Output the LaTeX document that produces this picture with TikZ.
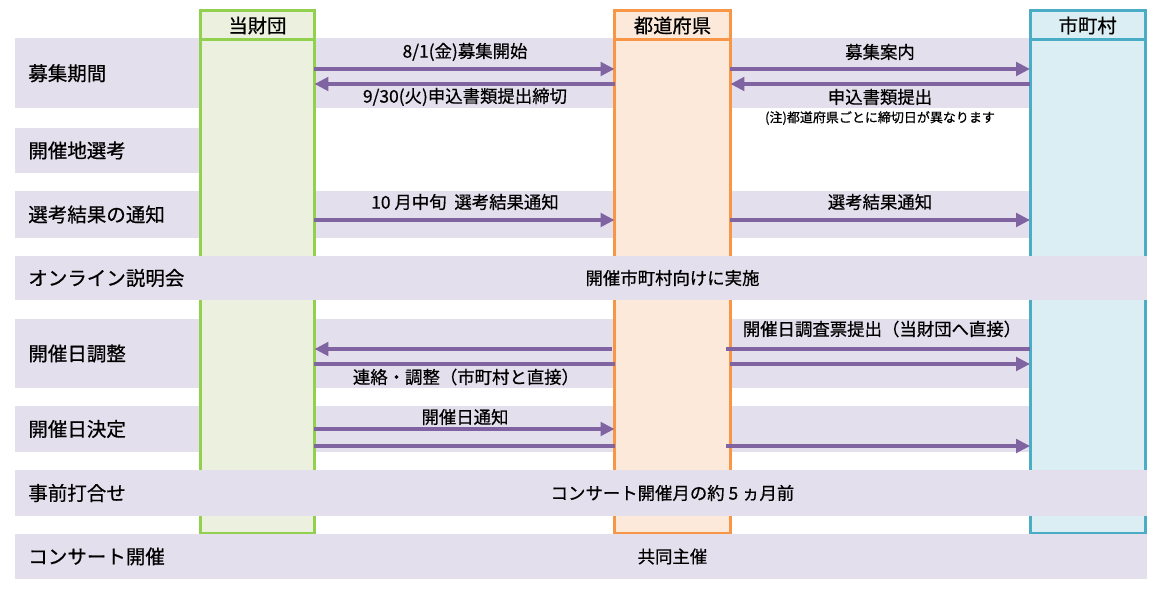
\documentclass[tikz,border=0pt]{standalone}
\usepackage{fontspec}
\setmainfont{Noto Sans CJK JP}[FakeBold=0.6]
\usepackage{tikz}
\usetikzlibrary{arrows.meta}
\definecolor{bandgray}{HTML}{E4DFEC}
\definecolor{flowpurple}{HTML}{8064A2}
\definecolor{zaidanline}{HTML}{92D050}
\definecolor{zaidanfill}{HTML}{EBF1DE}
\definecolor{prefline}{HTML}{F79646}
\definecolor{preffill}{HTML}{FDE9D9}
\definecolor{cityline}{HTML}{4BACC6}
\definecolor{cityfill}{HTML}{DAEEF3}
\tikzstyle{band} = [rectangle, fill=bandgray, inner sep=0pt, outer sep=0pt, anchor=north west]
\tikzstyle{rowlabel} = [anchor=west, inner sep=0pt, font=\fontsize{11.1}{13}\selectfont]
\tikzstyle{colbody} = [rectangle, line width=1.7pt, inner sep=0pt, outer sep=0pt,
    anchor=north west, minimum width=2.3cm, minimum height=9.88cm]
\tikzstyle{colhead} = [rectangle, line width=1.7pt, inner sep=0pt, outer sep=0pt,
    anchor=north west, minimum width=2.3cm, minimum height=0.58cm, font=\fontsize{11}{13}\selectfont]
\tikzstyle{msg} = [inner sep=0pt, font=\fontsize{9.9}{12}\selectfont]
\tikzstyle{flow} = [draw=flowpurple, line width=2pt, -{Triangle[length=0.28cm, width=0.27cm]}]
\tikzstyle{through} = [draw=flowpurple, line width=2.6pt]

\begin{document}
\begin{tikzpicture}[x=0.02cm, y=-0.02cm]
    \useasboundingbox (0,0) rectangle (1163,590);
    \node [band, minimum width=20.28cm, minimum height=1.41cm] at (15,38) (r1) {};
    \node [band, minimum width=3.68cm, minimum height=0.9cm] at (15,128) (r2) {};
    \node [band, minimum width=20.28cm, minimum height=0.94cm] at (15,191) (r3) {};
    \node [band, minimum width=20.28cm, minimum height=1.38cm] at (15,319) (r5) {};
    \node [band, minimum width=20.28cm, minimum height=0.92cm] at (15,406) (r6) {};

    \node [colbody, draw=zaidanline, fill=zaidanfill, minimum width=2.28cm] at (200.5,40) (zaidan) {};
    \node [colhead, draw=zaidanline, fill=zaidanfill, minimum width=2.28cm] at (200.5,11) (zaidanhead) {当財団};
    \node [colbody, draw=prefline, fill=preffill, minimum width=2.32cm] at (614.5,40) (pref) {};
    \node [colhead, draw=prefline, fill=preffill, minimum width=2.32cm] at (614.5,11) (prefhead) {都道府県};
    \node [colbody, draw=cityline, fill=cityfill, minimum width=2.31cm] at (1030,40) (city) {};
    \node [colhead, draw=cityline, fill=cityfill, minimum width=2.31cm] at (1030,11) (cityhead) {市町村};

    \node [band, minimum width=22.64cm, minimum height=0.88cm] at (15,256) (r4) {};
    \node [band, minimum width=22.64cm, minimum height=0.92cm] at (15,470) (r7) {};
    \node [band, minimum width=22.64cm, minimum height=0.9cm] at (15,534) (r8) {};

    \node [rowlabel] at ([xshift=0.26cm]r1.west) (l1) {募集期間};
    \node [rowlabel] at ([xshift=0.26cm]r2.west) (l2) {開催地選考};
    \node [rowlabel] at ([xshift=0.26cm]r3.west) (l3) {選考結果の通知};
    \node [rowlabel] at ([xshift=0.26cm]r4.west) (l4) {オンライン説明会};
    \node [rowlabel] at ([xshift=0.26cm]r5.west) (l5) {開催日調整};
    \node [rowlabel] at ([xshift=0.26cm]r6.west) (l6) {開催日決定};
    \node [rowlabel] at ([xshift=0.26cm]r7.west) (l7) {事前打合せ};
    \node [rowlabel] at ([xshift=0.26cm]r8.west) (l8) {コンサート開催};

    \node [msg] at (pref |- r4) (t4) {開催市町村向けに実施};
    \node [msg] at (pref |- r7) (t7) {コンサート開催月の約 5 ヵ月前};
    \node [msg] at (pref |- r8) (t8) {共同主催};

    \node [msg] at (465,52) (m1) {8/1(金)募集開始};
    \node [msg] at (465,97) (m2) {9/30(火)申込書類提出締切};
    \node [msg] at (880,52) (m3) {募集案内};
    \node [msg] at (880,97) (m4) {申込書類提出};
    \node [msg, font=\fontsize{7.4}{9}\selectfont] at (880,118) (note) {(注)都道府県ごとに締切日が異なります};
    \node [msg] at (465,202) (m5) {10 月中旬\ \ 選考結果通知};
    \node [msg] at (880,202) (m6) {選考結果通知};
    \node [msg] at (882,329) (m7) {開催日調査票提出（当財団へ直接）};
    \node [msg] at (466,377) (m8) {連絡・調整（市町村と直接）};
    \node [msg] at (465,417) (m9) {開催日通知};

    \coordinate (y1) at (0,69);
    \coordinate (y2) at (0,84);
    \coordinate (y3) at (0,220);
    \coordinate (y5a) at (0,349);
    \coordinate (y5b) at (0,364);
    \coordinate (y6a) at (0,429);
    \coordinate (y6b) at (0,446);

    \path [flow] (zaidan.east |- y1) -- (pref.west |- y1);
    \path [flow] (pref.west |- y2) -- (zaidan.east |- y2);
    \path [flow] (pref.east |- y1) -- (city.west |- y1);
    \path [flow] (city.west |- y2) -- (pref.east |- y2);
    \path [flow] (zaidan.east |- y3) -- (pref.west |- y3);
    \path [flow] (pref.east |- y3) -- (city.west |- y3);
    \path [through] (city.west |- y5a) -- ([xshift=-0.08cm]pref.east |- y5a);
    \path [flow] ([xshift=-0.05cm]pref.west |- y5a) -- (zaidan.east |- y5a);
    \path [through] (zaidan.east |- y5b) -- (pref.west |- y5b);
    \path [flow] (pref.east |- y5b) -- (city.west |- y5b);
    \path [flow] (zaidan.east |- y6a) -- (pref.west |- y6a);
    \path [through] (zaidan.east |- y6b) -- (pref.west |- y6b);
    \path [flow] ([xshift=-0.08cm]pref.east |- y6b) -- (city.west |- y6b);
\end{tikzpicture}
\end{document}
